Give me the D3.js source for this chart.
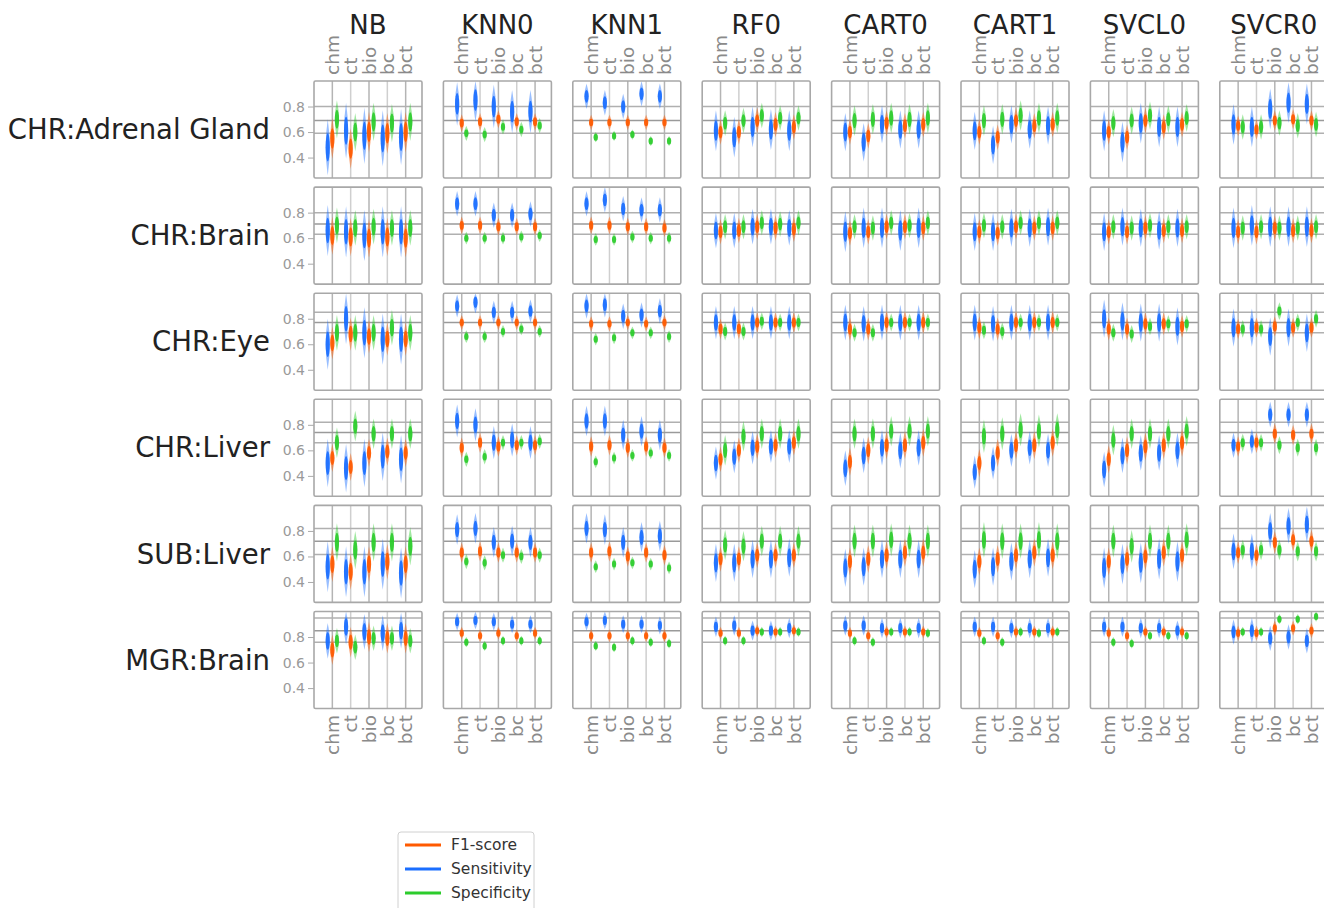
<!DOCTYPE html>
<html>
<head>
<meta charset="utf-8">
<script src="https://cdn.jsdelivr.net/npm/d3@7"></script>
<style>
  body { margin: 0; background: #fff; }
  svg { display: block; font-family: "DejaVu Sans", sans-serif; }
</style>
</head>
<body>
<svg id="chart" width="1324" height="908"></svg>
<script>
const models = ['NB', 'KNN0', 'KNN1', 'RF0', 'CART0', 'CART1', 'SVCL0', 'SVCR0']
const datasets = ['CHR:Adrenal Gland', 'CHR:Brain', 'CHR:Eye', 'CHR:Liver', 'SUB:Liver', 'MGR:Brain']
const features = ['chm', 'ct', 'bio', 'bc', 'bct']
const yTicks = [0.4, 0.6, 0.8]
const legendLabels = ['F1-score', 'Sensitivity', 'Specificity']

// reference lines drawn across every panel of a row
const rowLines = [
    [0.80, 0.69, 0.59],
    [0.80, 0.71, 0.63],
    [0.85, 0.77, 0.69],
    [0.82, 0.74, 0.66],
    [0.82, 0.72, 0.615],
    [0.95, 0.85, 0.76],
]

// medians per row (dataset) -> model -> feature
const sensMid = [
    [[0.48,0.61,0.57,0.55,0.56],[0.82,0.85,0.80,0.76,0.76],[0.88,0.83,0.80,0.90,0.88],[0.61,0.56,0.64,0.62,0.61],[0.60,0.52,0.66,0.62,0.62],[0.61,0.50,0.66,0.62,0.65],[0.61,0.52,0.67,0.64,0.64],[0.66,0.64,0.78,0.83,0.82]],
    [[0.66,0.65,0.62,0.65,0.65],[0.87,0.87,0.78,0.78,0.79],[0.87,0.90,0.83,0.82,0.82],[0.66,0.66,0.69,0.69,0.68],[0.65,0.68,0.68,0.66,0.68],[0.65,0.65,0.68,0.68,0.69],[0.65,0.69,0.68,0.66,0.68],[0.68,0.70,0.69,0.69,0.69]],
    [[0.60,0.80,0.69,0.64,0.64],[0.90,0.93,0.85,0.85,0.86],[0.90,0.91,0.82,0.83,0.86],[0.77,0.77,0.77,0.77,0.77],[0.77,0.76,0.77,0.77,0.77],[0.77,0.76,0.77,0.77,0.77],[0.80,0.78,0.77,0.77,0.74],[0.73,0.73,0.66,0.73,0.69]],
    [[0.50,0.46,0.50,0.55,0.53],[0.83,0.80,0.66,0.68,0.66],[0.83,0.83,0.72,0.75,0.72],[0.50,0.55,0.62,0.63,0.63],[0.46,0.56,0.62,0.60,0.62],[0.43,0.50,0.60,0.62,0.60],[0.45,0.56,0.58,0.58,0.60],[0.64,0.67,0.88,0.88,0.88]],
    [[0.52,0.48,0.48,0.54,0.47],[0.81,0.82,0.71,0.72,0.71],[0.82,0.81,0.71,0.75,0.76],[0.55,0.55,0.58,0.58,0.59],[0.51,0.52,0.58,0.58,0.58],[0.50,0.52,0.56,0.58,0.59],[0.51,0.54,0.55,0.58,0.56],[0.64,0.64,0.80,0.84,0.85]],
    [[0.77,0.88,0.84,0.83,0.85],[0.92,0.93,0.92,0.90,0.90],[0.92,0.93,0.90,0.90,0.89],[0.88,0.89,0.85,0.85,0.87],[0.89,0.89,0.87,0.87,0.87],[0.88,0.88,0.87,0.87,0.87],[0.88,0.88,0.87,0.87,0.85],[0.84,0.85,0.79,0.80,0.77]],
]
const f1Mid = [
    [[0.55,0.47,0.60,0.59,0.60],[0.67,0.68,0.70,0.68,0.68],[0.675,0.675,0.675,0.675,0.675],[0.60,0.60,0.69,0.66,0.64],[0.60,0.57,0.67,0.65,0.66],[0.60,0.56,0.69,0.65,0.66],[0.60,0.56,0.69,0.64,0.66],[0.65,0.62,0.69,0.70,0.69]],
    [[0.62,0.61,0.60,0.61,0.60],[0.70,0.70,0.69,0.69,0.69],[0.70,0.70,0.69,0.69,0.68],[0.65,0.66,0.69,0.68,0.67],[0.64,0.65,0.69,0.69,0.68],[0.65,0.64,0.69,0.68,0.68],[0.65,0.65,0.68,0.66,0.66],[0.65,0.65,0.68,0.66,0.66]],
    [[0.61,0.68,0.66,0.64,0.64],[0.77,0.77,0.77,0.77,0.77],[0.76,0.76,0.77,0.76,0.77],[0.72,0.72,0.77,0.77,0.77],[0.72,0.72,0.77,0.77,0.77],[0.73,0.72,0.77,0.77,0.77],[0.72,0.72,0.76,0.76,0.74],[0.72,0.73,0.74,0.73,0.73]],
    [[0.54,0.47,0.58,0.59,0.58],[0.62,0.66,0.63,0.64,0.64],[0.63,0.64,0.62,0.63,0.62],[0.53,0.60,0.63,0.64,0.66],[0.51,0.60,0.64,0.64,0.66],[0.50,0.58,0.64,0.64,0.66],[0.53,0.60,0.63,0.64,0.66],[0.63,0.66,0.73,0.72,0.73]],
    [[0.54,0.48,0.54,0.56,0.54],[0.63,0.64,0.63,0.63,0.63],[0.63,0.64,0.60,0.63,0.61],[0.58,0.58,0.61,0.61,0.61],[0.56,0.58,0.61,0.63,0.63],[0.56,0.58,0.61,0.63,0.61],[0.56,0.58,0.60,0.63,0.61],[0.63,0.61,0.71,0.73,0.72]],
    [[0.70,0.76,0.80,0.79,0.79],[0.83,0.81,0.83,0.81,0.83],[0.81,0.81,0.81,0.81,0.81],[0.83,0.83,0.85,0.84,0.85],[0.83,0.81,0.84,0.84,0.84],[0.83,0.81,0.84,0.84,0.84],[0.83,0.81,0.84,0.84,0.84],[0.83,0.83,0.87,0.87,0.85]],
]
const specMid = [
    [[0.70,0.60,0.68,0.67,0.68],[0.59,0.58,0.64,0.62,0.65],[0.56,0.57,0.58,0.53,0.53],[0.67,0.69,0.73,0.71,0.71],[0.69,0.70,0.71,0.70,0.71],[0.69,0.70,0.73,0.71,0.71],[0.67,0.69,0.73,0.70,0.71],[0.64,0.64,0.67,0.65,0.66]],
    [[0.70,0.68,0.69,0.68,0.68],[0.60,0.60,0.60,0.61,0.62],[0.59,0.59,0.61,0.60,0.60],[0.69,0.69,0.72,0.71,0.72],[0.69,0.68,0.72,0.70,0.72],[0.70,0.69,0.72,0.72,0.72],[0.69,0.68,0.70,0.69,0.69],[0.68,0.69,0.68,0.68,0.69]],
    [[0.69,0.69,0.69,0.73,0.69],[0.66,0.66,0.70,0.72,0.70],[0.64,0.65,0.69,0.69,0.66],[0.70,0.70,0.78,0.77,0.77],[0.69,0.69,0.77,0.77,0.77],[0.71,0.70,0.77,0.77,0.77],[0.69,0.68,0.74,0.76,0.76],[0.72,0.72,0.86,0.77,0.80]],
    [[0.66,0.79,0.73,0.73,0.73],[0.53,0.55,0.66,0.66,0.67],[0.51,0.54,0.56,0.58,0.56],[0.60,0.71,0.73,0.73,0.73],[0.73,0.73,0.75,0.75,0.75],[0.71,0.73,0.76,0.75,0.76],[0.68,0.73,0.73,0.73,0.75],[0.66,0.66,0.64,0.62,0.62]],
    [[0.71,0.65,0.71,0.71,0.68],[0.56,0.55,0.61,0.60,0.61],[0.52,0.54,0.55,0.54,0.51],[0.69,0.68,0.72,0.72,0.72],[0.72,0.72,0.73,0.72,0.72],[0.73,0.72,0.72,0.73,0.72],[0.72,0.68,0.72,0.72,0.73],[0.65,0.65,0.65,0.64,0.64]],
    [[0.77,0.72,0.79,0.79,0.77],[0.76,0.73,0.77,0.77,0.77],[0.73,0.72,0.77,0.76,0.75],[0.77,0.77,0.84,0.84,0.84],[0.77,0.76,0.84,0.84,0.83],[0.77,0.76,0.84,0.83,0.84],[0.76,0.75,0.81,0.81,0.81],[0.84,0.84,0.94,0.94,0.96]],
]

// half of the value range covered by each violin, per row -> model
const sensHalf = [
    [0.22, 0.17, 0.10, 0.16, 0.15, 0.15, 0.16, 0.16],
    [0.20, 0.10, 0.10, 0.14, 0.16, 0.15, 0.15, 0.16],
    [0.20, 0.09, 0.10, 0.13, 0.14, 0.14, 0.15, 0.15],
    [0.19, 0.13, 0.12, 0.13, 0.14, 0.13, 0.14, 0.10],
    [0.20, 0.12, 0.12, 0.15, 0.15, 0.15, 0.16, 0.14],
    [0.14, 0.07, 0.07, 0.08, 0.08, 0.08, 0.08, 0.10],
]
const f1Half = [
    [0.16, 0.07, 0.06, 0.10, 0.10, 0.10, 0.10, 0.08],
    [0.15, 0.07, 0.07, 0.10, 0.10, 0.10, 0.10, 0.10],
    [0.13, 0.06, 0.06, 0.08, 0.09, 0.09, 0.09, 0.08],
    [0.11, 0.08, 0.08, 0.10, 0.11, 0.11, 0.11, 0.08],
    [0.14, 0.08, 0.08, 0.10, 0.11, 0.11, 0.11, 0.09],
    [0.12, 0.05, 0.05, 0.05, 0.05, 0.05, 0.05, 0.06],
]
const specHalf = [
    [0.15, 0.06, 0.04, 0.10, 0.12, 0.12, 0.11, 0.10],
    [0.14, 0.05, 0.05, 0.10, 0.10, 0.10, 0.10, 0.10],
    [0.14, 0.05, 0.05, 0.07, 0.07, 0.07, 0.07, 0.07],
    [0.12, 0.06, 0.05, 0.12, 0.12, 0.13, 0.12, 0.07],
    [0.15, 0.06, 0.05, 0.12, 0.13, 0.14, 0.13, 0.08],
    [0.10, 0.04, 0.04, 0.04, 0.04, 0.04, 0.04, 0.04],
]

const metricColor = {'F1-score': '#ff5a00', 'Sensitivity': '#1a6eff', 'Specificity': '#2ccc2c'}

// drawing order: blue left, orange on the tick, green right
const violinSets = [
    {name: 'Sensitivity', mid: sensMid, half: sensHalf, dx: -4.6},
    {name: 'F1-score', mid: f1Mid, half: f1Half, dx: 0},
    {name: 'Specificity', mid: specMid, half: specHalf, dx: 4.6},
]

const svg = d3.select('#chart')

const colScale = d3.scaleBand().domain(models).range([314, 1327.8]).paddingInner(0.1654)
const rowScale = d3.scaleBand().domain(datasets).range([81, 708.5]).paddingInner(0.0858)
const panelW = colScale.bandwidth()
const panelH = rowScale.bandwidth()

const xScale = d3.scalePoint().domain(features).range([0, 110]).padding(1)
const yScale = d3.scaleLinear().domain([0.24, 1.0]).range([panelH, 0])

function violin_path(x, lo, mid, hi) {
    const w = 4.2
    return `M${x},${yScale(lo)} Q${x + w},${yScale(mid)} ${x},${yScale(hi)} Q${x - w},${yScale(mid)} ${x},${yScale(lo)} Z`
}

function draw_panel(g, r, c) {
    g.append('rect')
       .attr('width', panelW)
       .attr('height', panelH)
       .attr('fill', '#fff')

    g.selectAll('.vgrid')
     .data(features)
     .join('line')
       .attr('class', 'vgrid')
       .attr('x1', d => xScale(d))
       .attr('x2', d => xScale(d))
       .attr('y1', 0)
       .attr('y2', panelH)
       .attr('stroke', (d, i) => i % 2 == 0 ? '#b4b4b4' : '#cfcfcf')
       .attr('stroke-width', 1.5)

    g.selectAll('.hline')
     .data(rowLines[r])
     .join('line')
       .attr('class', 'hline')
       .attr('x1', 0)
       .attr('x2', panelW)
       .attr('y1', d => yScale(d))
       .attr('y2', d => yScale(d))
       .attr('stroke', (d, i) => i == 1 ? '#9a9a9a' : '#b0b0b0')
       .attr('stroke-width', 1.5)

    for (let s of violinSets) {
        const col = metricColor[s.name]
        const half = s.half[r][c]
        const vals = s.mid[r][c]
        const vg = g.append('g')
        vg.selectAll('path')
          .data(vals)
          .join('path')
            .attr('d', (v, i) => violin_path(xScale(features[i]) + s.dx, v - half, v, Math.min(v + half, 1.0)))
            .attr('fill', col)
            .attr('fill-opacity', 0.45)
        vg.selectAll('ellipse')
          .data(vals)
          .join('ellipse')
            .attr('cx', (v, i) => xScale(features[i]) + s.dx)
            .attr('cy', v => yScale(v))
            .attr('rx', 2.1)
            .attr('ry', v => Math.max(3.5, yScale(v - half * 0.5) - yScale(v)))
            .attr('fill', col)
            .attr('fill-opacity', 0.92)
    }

    g.append('rect')
       .attr('width', panelW)
       .attr('height', panelH)
       .attr('fill', 'none')
       .attr('stroke', '#a8a8a8')
       .attr('stroke-width', 1.6)
       .attr('rx', 1.5)
}

datasets.forEach((ds, r) => {
    models.forEach((m, c) => {
        const g = svg.append('g')
                     .attr('transform', `translate(${colScale(m)},${rowScale(ds)})`)
        draw_panel(g, r, c)
    })

    // row label + y ticks on the first column
    svg.append('text')
       .attr('x', 270)
       .attr('y', rowScale(ds) + panelH / 2)
       .attr('dy', '0.35em')
       .attr('text-anchor', 'end')
       .attr('font-size', 27.5)
       .attr('fill', '#222')
       .text(ds)

    const yAxis = d3.axisLeft(yScale)
                    .tickValues(yTicks)
                    .tickFormat(d3.format('.1f'))
                    .tickSize(6)
                    .tickPadding(3)
    svg.append('g')
       .attr('transform', `translate(${colScale(models[0])},${rowScale(ds)})`)
       .call(yAxis)
       .call(g => g.select('.domain').remove())
       .call(g => g.selectAll('.tick line').attr('stroke', '#aaa'))
       .call(g => g.selectAll('.tick text')
                   .attr('fill', '#9a9a9a')
                   .attr('font-size', 14)
                   .attr('font-family', '"DejaVu Sans", sans-serif'))
})

// column titles and rotated feature labels (top and bottom)
models.forEach(m => {
    const x0 = colScale(m)
    svg.append('text')
       .attr('x', x0 + panelW / 2)
       .attr('y', 34)
       .attr('text-anchor', 'middle')
       .attr('font-size', 26)
       .attr('fill', '#222')
       .text(m)

    svg.append('g')
     .selectAll('text')
     .data(features)
     .join('text')
       .attr('transform', d => `translate(${x0 + xScale(d)},75) rotate(-90)`)
       .attr('dy', '0.36em')
       .attr('text-anchor', 'start')
       .attr('font-size', 18.5)
       .attr('fill', '#8a8a8a')
       .text(d => d)

    svg.append('g')
     .selectAll('text')
     .data(features)
     .join('text')
       .attr('transform', d => `translate(${x0 + xScale(d)},715) rotate(-90)`)
       .attr('dy', '0.36em')
       .attr('text-anchor', 'end')
       .attr('font-size', 18.5)
       .attr('fill', '#8a8a8a')
       .text(d => d)
})

// legend
const legend = svg.append('g').attr('transform', 'translate(398,832)')
legend.append('rect')
      .attr('width', 136)
      .attr('height', 84)
      .attr('rx', 3)
      .attr('fill', '#fff')
      .attr('stroke', '#d0d0d0')
legend.selectAll('line')
      .data(legendLabels)
      .join('line')
        .attr('x1', 7)
        .attr('x2', 43)
        .attr('y1', (d, i) => 13 + i * 24)
        .attr('y2', (d, i) => 13 + i * 24)
        .attr('stroke', d => metricColor[d])
        .attr('stroke-width', 3)
legend.selectAll('text')
      .data(legendLabels)
      .join('text')
        .attr('x', 53)
        .attr('y', (d, i) => 13 + i * 24)
        .attr('dy', '0.35em')
        .attr('font-size', 15.5)
        .attr('fill', '#333')
        .text(d => d)
</script>
</body>
</html>
